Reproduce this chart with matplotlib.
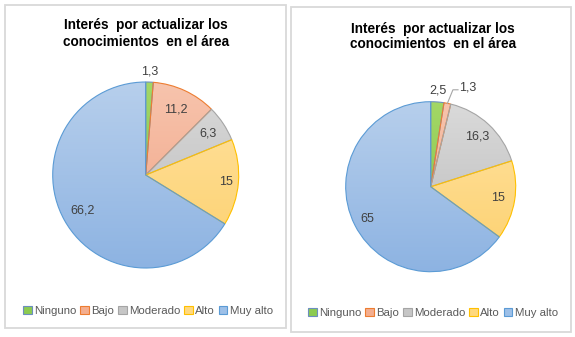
import matplotlib
matplotlib.use("Agg")
import matplotlib.pyplot as plt
import numpy as np
from matplotlib.patches import Rectangle, Patch
from matplotlib.colors import LinearSegmentedColormap

categories = ["Ninguno", "Bajo", "Moderado", "Alto", "Muy alto"]
left_values = [1.3, 11.2, 6.3, 15, 66.2]
right_values = [2.5, 1.3, 16.3, 15, 65]
title_text = "Interés  por actualizar los\nconocimientos  en el área"

# gradient fills (top, bottom) and outline colours per category
grad_top = ["#A3D766", "#F7C4AD", "#DADADA", "#FFE3A3", "#B7CFEC"]
grad_bot = ["#7DC145", "#F1A283", "#B9B9B9", "#FDD06C", "#8DB3E2"]
edges = ["#6C8EBF", "#ED7D31", "#A5A5A5", "#FFC000", "#5B9BD5"]
legend_face = ["#8CCB50", "#F4AE8F", "#C6C6C6", "#FFD97F", "#9DC0E8"]

W, H = 575, 337
fig = plt.figure(figsize=(W / 100, H / 100), dpi=100)
fig.patch.set_facecolor("white")


def px_rect(x0, y0, x1, y1):
    return [x0 / W, 1 - y1 / H, (x1 - x0) / W, (y1 - y0) / H]


def frame(x0, y0, x1, y1):
    fig.add_artist(Rectangle((x0 / W, 1 - y1 / H), (x1 - x0) / W, (y1 - y0) / H,
                             transform=fig.transFigure, fill=False,
                             edgecolor="#D9D9D9", lw=1.3))


def draw_pie(cx, cy, r, values, label_dist, leader=None):
    ax = fig.add_axes(px_rect(cx - r, cy - r, cx + r, cy + r))
    wedges, _ = ax.pie(values, startangle=90, counterclock=False, radius=1,
                       wedgeprops=dict(linewidth=0.8))
    grad = np.linspace(1, 0, 256).reshape(-1, 1)
    for i, w in enumerate(wedges):
        w.set_facecolor("none")
        w.set_edgecolor(edges[i])
        w.set_zorder(3)
        cmap = LinearSegmentedColormap.from_list("g", [grad_bot[i], grad_top[i]])
        im = ax.imshow(grad, cmap=cmap, extent=(-1, 1, -1, 1), origin="upper",
                       aspect="auto", zorder=2, interpolation="bilinear")
        im.set_clip_path(w)
    for i, w in enumerate(wedges):
        val = values[i]
        txt = f"{val:g}".replace(".", ",")
        mid = np.deg2rad((w.theta1 + w.theta2) / 2)
        if leader is not None and i == leader:
            x0, y0 = np.cos(mid), np.sin(mid)
            ex, ey = x0 + 0.065, 1.14
            ax.plot([x0, ex, ex + 0.06], [y0, ey, ey], color="#A6A6A6",
                    lw=0.8, zorder=4, clip_on=False)
            ax.text(ex + 0.07, ey + 0.03, txt, ha="left", va="center",
                    fontsize=9, color="#404040", family="Liberation Sans")
            continue
        d = label_dist[i]
        ax.text(d * np.cos(mid), d * np.sin(mid), txt, ha="center", va="center",
                fontsize=9, color="#404040", family="Liberation Sans", zorder=5)
    ax.set_xlim(-1.0, 1.0)
    ax.set_ylim(-1.0, 1.0)
    ax.set_aspect("equal")
    ax.axis("off")
    return ax


def add_title(cx, y1, y2):
    lines = title_text.split("\n")
    for line, y in zip(lines, (y1, y2)):
        fig.text(cx / W, 1 - y / H, line, ha="center", va="center",
                 fontsize=9.8, fontweight="bold", family="Liberation Sans",
                 color="#000000")


def add_legend(cx, y):
    handles = [Patch(facecolor=legend_face[i], edgecolor=edges[i], lw=0.8,
                     label=categories[i]) for i in range(len(categories))]
    fig.legend(handles=handles, loc="center", bbox_to_anchor=(cx / W, 1 - y / H),
               ncol=5, frameon=False, handlelength=0.75, handleheight=0.75,
               handletextpad=0.2, columnspacing=0.35, borderpad=0,
               prop=dict(family="Liberation Sans", size=8.2),
               labelcolor="#595959")


# left chart
frame(5, 5, 285.5, 328)
add_title(146, 25, 42)
draw_pie(145.7, 175, 93, left_values, [1.11, 0.78, 0.81, 0.87, 0.78])
add_legend(148, 311)

# right chart
frame(290.5, 6.5, 571, 332)
add_title(433, 29, 44)
draw_pie(430.7, 186.7, 85, right_values, [1.13, 1.0, 0.8, 0.8, 0.84], leader=1)
add_legend(433, 313)

fig.savefig("out.png", dpi=100, facecolor="white")
